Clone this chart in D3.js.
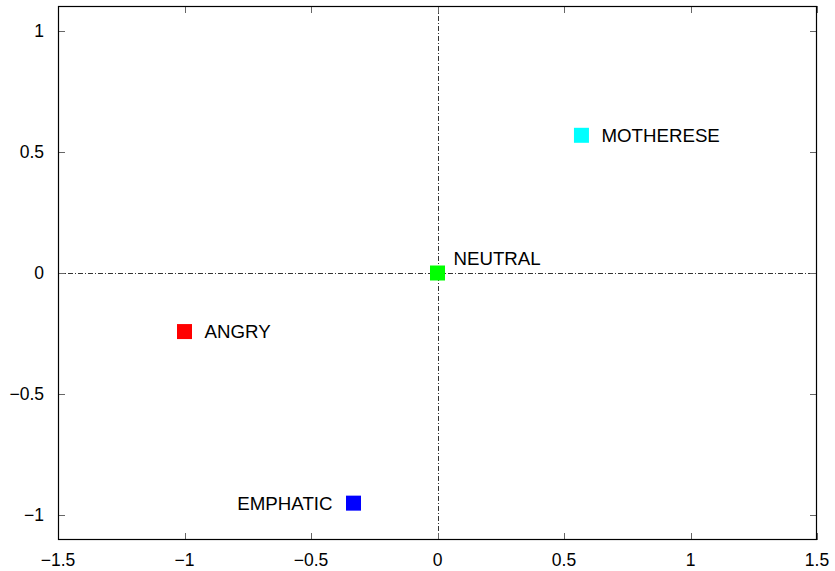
<!DOCTYPE html>
<html><head><meta charset="utf-8">
<script src="https://cdn.jsdelivr.net/npm/d3@7"></script>
<style>
body{margin:0;background:#fff;}
text{font-family:"Liberation Sans",Arial,sans-serif;font-size:17.5px;fill:#000;}
text.lb{font-size:18.7px;}
</style></head>
<body><svg id="c" width="835" height="571"></svg>
<script>
const categories = ["NEUTRAL","ANGRY","EMPHATIC","MOTHERESE"];
const xValues = [0, -1.0, -0.332, 0.569];
const yValues = [0, -0.242, -0.951, 0.569];
const colors = ["#00ff00","#ff0000","#0000ff","#00ffff"];
const xTicks = [-1.5,-1,-0.5,0,0.5,1,1.5];
const yTicks = [-1,-0.5,0,0.5,1];

const svg = d3.select("#c");
const L=58, R=817, T=6, B=540;
const x = d3.scaleLinear().domain([-1.5,1.5]).range([L,R]);
const y = d3.scaleLinear().domain([-1.1033,1.1033]).range([B,T]);
const fmt = v => (v<0?"\u2212":"") + Math.abs(v);

// zero axes
svg.append("line").attr("x1",L).attr("x2",R).attr("y1",Math.round(y(0))+0.5).attr("y2",Math.round(y(0))+0.5)
  .attr("stroke","#333").attr("stroke-width",1).attr("stroke-dasharray","5,2,1,2");
svg.append("line").attr("y1",T).attr("y2",B).attr("x1",Math.round(x(0))+0.5).attr("x2",Math.round(x(0))+0.5)
  .attr("stroke","#333").attr("stroke-width",1).attr("stroke-dasharray","5,2,1,2");

// ticks
const tl=7;
xTicks.forEach(v=>{
  const px=Math.round(x(v))+0.5;
  svg.append("line").attr("x1",px).attr("x2",px).attr("y1",B).attr("y2",B-tl).attr("stroke","#666");
  svg.append("line").attr("x1",px).attr("x2",px).attr("y1",T).attr("y2",T+tl).attr("stroke","#666");
  svg.append("text").attr("x",x(v)).attr("y",566).attr("text-anchor","middle").text(fmt(v));
});
yTicks.forEach(v=>{
  const py=Math.round(y(v))+0.5;
  svg.append("line").attr("x1",L).attr("x2",L+tl).attr("y1",py).attr("y2",py).attr("stroke","#666");
  svg.append("line").attr("x1",R).attr("x2",R-tl).attr("y1",py).attr("y2",py).attr("stroke","#666");
  svg.append("text").attr("x",44).attr("y",y(v)+6).attr("text-anchor","end").text(fmt(v));
});

// frame
svg.append("rect").attr("x",L+0.5).attr("y",T+0.5).attr("width",R-L-1).attr("height",B-T-1)
  .attr("fill","none").attr("stroke","#000").attr("stroke-width",1.2);

// points
const s=15;
const data = categories.map((c,i)=>({c,x:xValues[i],y:yValues[i],col:colors[i]}));
svg.selectAll("rect.pt").data(data).enter().append("rect").attr("class","pt")
  .attr("x",d=>x(d.x)-s/2).attr("y",d=>y(d.y)-s/2).attr("width",s).attr("height",s).attr("fill",d=>d.col);
const lab = {NEUTRAL:[16,-8,"start"],ANGRY:[20,6.5,"start"],EMPHATIC:[-21,6.5,"end"],MOTHERESE:[20,7,"start"]};
svg.selectAll("text.lb").data(data).enter().append("text").attr("class","lb")
  .attr("x",d=>x(d.x)+lab[d.c][0]).attr("y",d=>y(d.y)+lab[d.c][1]).attr("text-anchor",d=>lab[d.c][2]).text(d=>d.c);
</script></body></html>
